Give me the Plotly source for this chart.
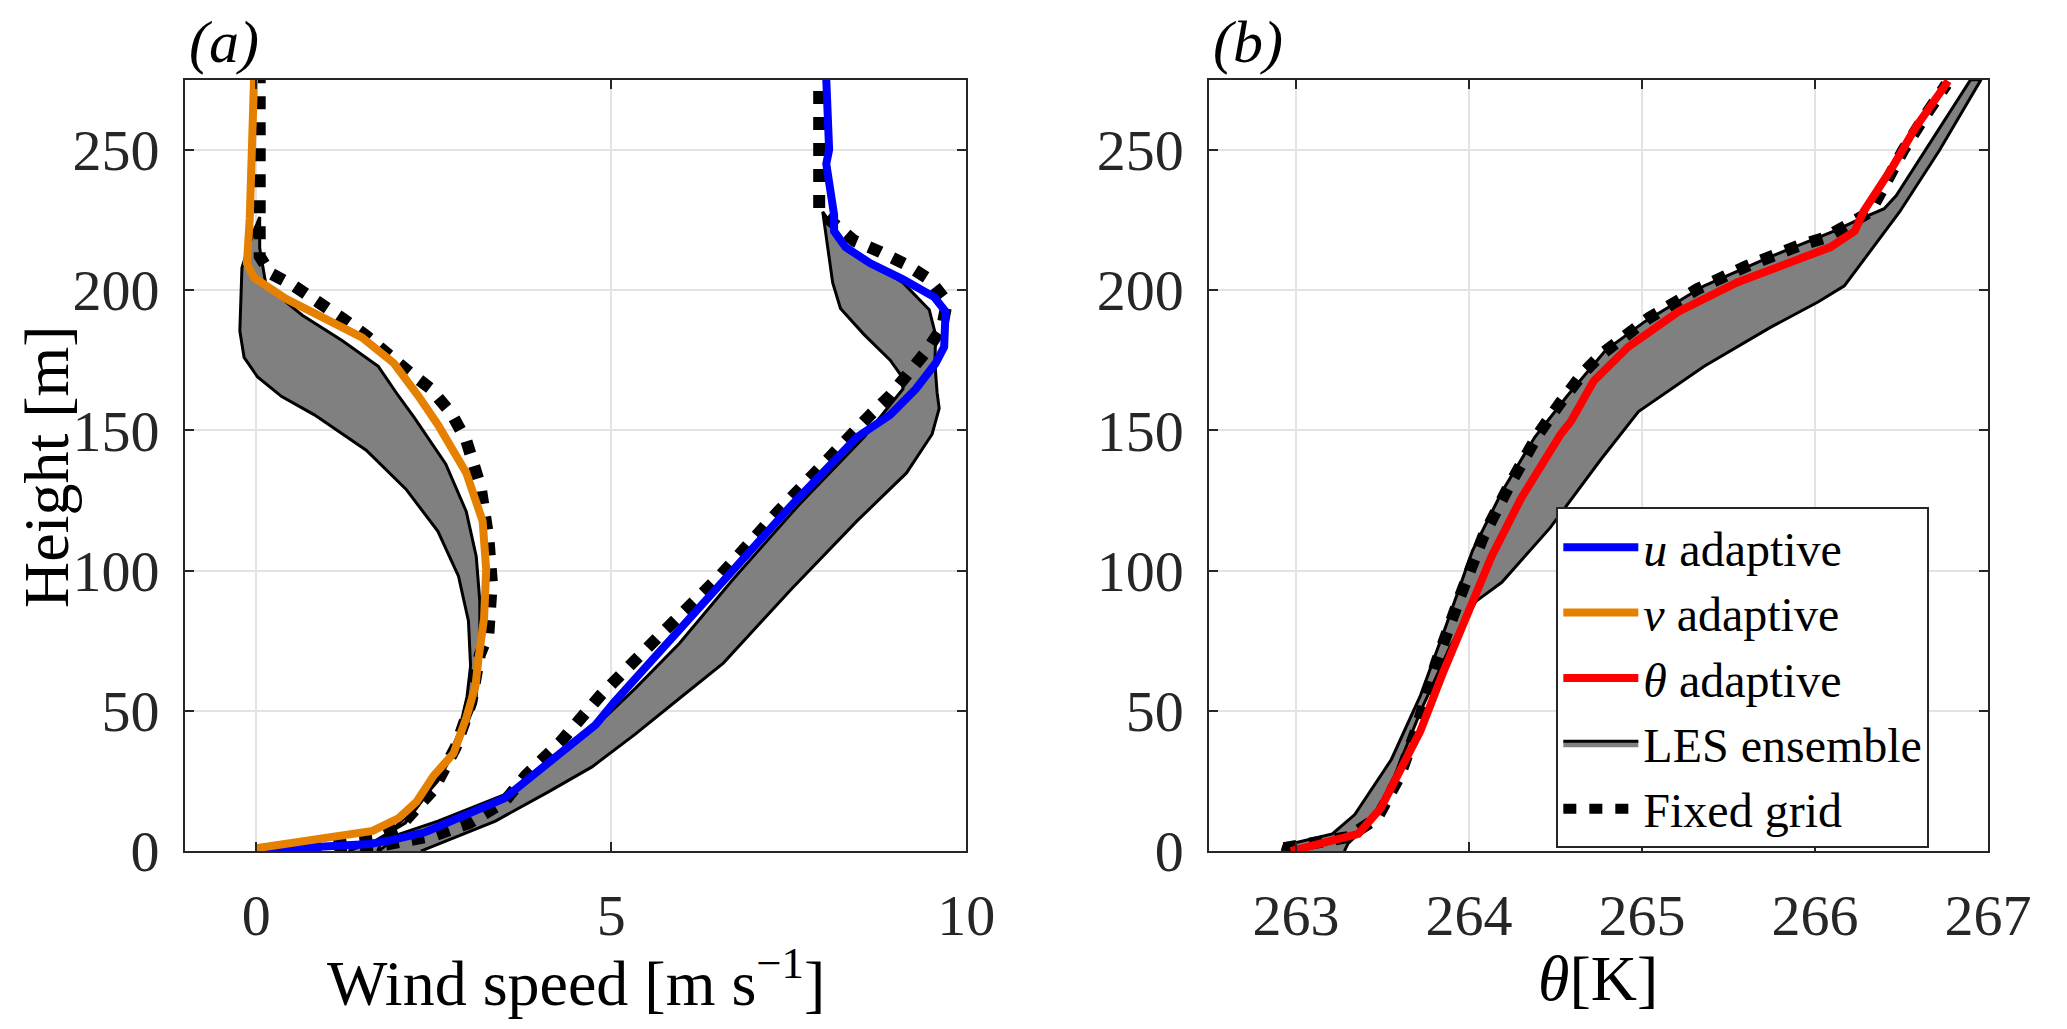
import plotly.graph_objects as go

# ---- panel (a): wind speed profiles [m/s] vs height [m] ----
u_adapt = [0.0, 1.0, 1.6, 1.89, 2.38, 3.49, 4.11, 4.42, 4.78, 5.04, 5.70, 6.62, 7.54, 8.46,
           8.93, 9.29, 9.57, 9.69, 9.71, 9.55, 9.11, 8.65, 8.30, 8.14, 8.14, 8.03, 8.07, 8.03]
z_u_adapt = [0.3, 1.5, 2.5, 3.8, 6.7, 18.7, 31, 37, 45, 53, 71.6, 96.9, 123.3, 147.5,
             155.5, 164.7, 173.9, 179.7, 192.3, 197.5, 203.8, 209.5, 215.3, 221, 226.8, 245, 250, 275]

v_adapt = [0.0, 0.8, 1.64, 2.01, 2.26, 2.50, 2.78, 2.96, 3.09, 3.13, 3.21, 3.24, 3.19, 2.96,
           2.56, 2.28, 1.94, 1.49, 0.93, 0.42, -0.03, -0.13, -0.09, -0.03]
z_v_adapt = [1, 4, 7.2, 11.8, 17.6, 26.9, 34.8, 47.5, 59, 68.3, 83, 100.3, 117.6, 134.8,
             152, 162.4, 173.9, 183.1, 190.6, 196.9, 204.4, 209.5, 225.6, 275]

u_fixed = [0.0, 1.0, 1.76, 2.5, 3.0, 3.49, 3.8, 4.29, 4.85, 5.70, 6.53, 7.31, 8.10, 8.37,
           8.65, 8.93, 9.18, 9.43, 9.66, 9.73, 9.48, 9.16, 8.79, 8.42, 8.1, 7.93, 7.93]
z_u_fixed = [0, 1, 2, 5.5, 10, 17.5, 27, 39, 55.5, 77.3, 98, 119.9, 141.7, 148.6,
             155.5, 162.4, 170, 177.9, 186.6, 195.8, 203.8, 209, 213.6, 217.6, 224.5, 228, 275]

v_fixed = [0.0, 0.8, 1.64, 2.01, 2.5, 2.81, 3.03, 3.15, 3.27, 3.32, 3.27, 3.16, 2.96, 2.75,
           2.45, 2.17, 1.88, 1.55, 1.21, 0.87, 0.53, 0.2, 0.05, 0.05]
z_v_fixed = [-0.5, 2, 4.5, 8.4, 22, 37, 53, 70, 77.3, 95.8, 111.8, 130, 146.3, 156,
             165, 170.4, 176.8, 183.7, 190, 196, 201.5, 206, 212, 275]

# LES ensemble envelopes (min / max)
u_les_min = [1.73, 2.01, 2.56, 3.49, 4.11, 4.72, 5.34, 5.96, 6.72, 7.64, 8.56, 9.11, 9.09,
             8.93, 8.56, 8.23, 8.12, 8.03, 7.98]
z_u_les_min = [0, 6, 10.7, 20, 31, 43, 58, 74, 97, 123.3, 147.5, 164.7, 169.3,
               175, 184.2, 193.4, 202.6, 218.7, 227.9]
u_les_max = [2.32, 3.37, 4.11, 4.73, 5.34, 5.96, 6.58, 7.05, 7.54, 8.46, 9.16, 9.52, 9.62,
             9.59, 9.56, 9.57, 9.48, 9.11, 8.33, 8.14, 7.98]
z_u_les_max = [0, 10.7, 21, 30, 41.7, 54.4, 67, 80, 93.4, 117.6, 134.8, 148.6, 157.8,
               163.6, 174, 184, 193, 202.6, 215, 222, 227.9]

v_les_min = [1.3, 1.7, 2.1, 2.4, 2.65, 2.85, 2.97, 3.02, 2.99, 2.85, 2.56, 2.11, 1.55, 0.82,
             0.36, 0.02, -0.17, -0.23, -0.2, -0.03, 0.05]
z_v_les_min = [0, 4, 10, 20, 30, 42, 55, 66, 82, 98, 114, 129, 142.9, 155.5,
               162, 169, 176, 185.4, 208, 221, 226]
v_les_max = [1.71, 1.8, 2.19, 2.56, 2.87, 3.09, 3.14, 3.15, 3.15, 3.1, 2.96, 2.67, 2.23, 2.0,
             1.72, 1.21, 0.65, 0.14, 0.05, 0.05]
z_v_les_max = [0, 5, 14, 25, 39, 53, 66, 77, 89, 105, 121, 138, 154.4, 162.4,
               172.8, 182, 191, 201.5, 215, 226]

# ---- panel (b): potential temperature [K] vs height [m] ----
th_adapt = [262.97, 263.36, 263.49, 263.66, 263.72, 263.85, 264.0, 264.13, 264.30, 264.40,
            264.53, 264.59, 264.72, 264.92, 265.21, 265.55, 265.83, 266.09, 266.23, 266.28,
            266.45, 266.58, 266.77]
z_th_adapt = [0, 6.1, 15.3, 34.8, 42.9, 63.6, 86.6, 104.9, 125.6, 136,
              148.6, 153.2, 167.5, 179.7, 192.3, 202.7, 209.5, 215.3, 221, 227.9,
              244, 257.8, 274.5]

th_fixed = [262.93, 263.30, 263.47, 263.60, 263.70, 263.81, 263.95, 264.08, 264.23, 264.40,
            264.53, 264.66, 264.77, 265.04, 265.32, 265.60, 265.91, 266.06, 266.19, 266.32,
            266.42, 266.51, 266.64, 266.76]
z_th_fixed = [1, 5, 11.8, 26.8, 44, 67, 91, 111.8, 130, 148.6,
              160, 170.4, 177.3, 190, 200.3, 208.4, 215.9, 218.7, 223.3, 227.9,
              239.4, 249.8, 262.4, 273.3]

th_les_min = [262.92, 262.93, 263.21, 263.34, 263.55, 263.72, 263.87, 264.02, 264.19, 264.38,
              264.57, 264.79, 265.02, 265.36, 265.74, 266.11, 266.23, 266.40, 266.47, 266.68,
              266.90]
z_th_les_min = [0, 2, 6.1, 13, 32.5, 55.5, 80.8, 107, 128, 147.5,
                162.4, 178.5, 188.9, 201.5, 211.8, 221, 224.5, 229, 233.7, 254,
                275]
th_les_max = [263.28, 263.30, 263.44, 263.57, 263.72, 263.89, 264.04, 264.19, 264.47, 264.76,
              264.98, 265.36, 265.74, 266.02, 266.17, 266.38, 266.49, 266.72, 266.96]
z_th_les_max = [0, 2.6, 10.7, 26.8, 49.8, 72.8, 89, 95.8, 115.3, 139.4,
                156.7, 172.8, 186.6, 195.8, 201.5, 218.7, 227.9, 249.8, 275]

height_ticks = [0, 50, 100, 150, 200, 250]
wind_ticks = [0, 5, 10]
theta_ticks = [263, 264, 265, 266, 267]

BLUE = 'rgb(0,0,255)'
ORANGE = 'rgb(230,128,0)'
RED = 'rgb(255,0,0)'
GREY = 'rgb(128,128,128)'
AXCOL = '#262626'
FONT = "'Liberation Serif', 'Times New Roman', 'DejaVu Serif', serif"

fig = go.Figure()


def band(x_lo, z_lo, x_hi, z_hi, xa, ya, show):
    # closed polygon: min envelope upward, max envelope back down
    return go.Scatter(
        x=x_lo + x_hi[::-1], y=z_lo + z_hi[::-1],
        xaxis=xa, yaxis=ya,
        mode='lines', fill='toself', fillcolor=GREY,
        line=dict(color='black', width=3),
        name='LES ensemble', legendgroup='les', legendrank=4, showlegend=show,
    )


def fixed(x, z, xa, ya, show):
    return go.Scatter(
        x=x, y=z, xaxis=xa, yaxis=ya, mode='lines',
        line=dict(color='black', width=12, dash='13px,13px'),
        name='Fixed grid', legendgroup='fixed', legendrank=5, showlegend=show,
    )


def adapt(x, z, xa, ya, color, name, rank):
    return go.Scatter(
        x=x, y=z, xaxis=xa, yaxis=ya, mode='lines',
        line=dict(color=color, width=8),
        name=name, legendrank=rank,
    )


fig.add_trace(band(v_les_min, z_v_les_min, v_les_max, z_v_les_max, 'x', 'y', True))
fig.add_trace(band(u_les_min, z_u_les_min, u_les_max, z_u_les_max, 'x', 'y', False))
fig.add_trace(band(th_les_min, z_th_les_min, th_les_max, z_th_les_max, 'x2', 'y2', False))

fig.add_trace(fixed(v_fixed, z_v_fixed, 'x', 'y', True))
fig.add_trace(fixed(u_fixed, z_u_fixed, 'x', 'y', False))
fig.add_trace(fixed(th_fixed, z_th_fixed, 'x2', 'y2', False))

fig.add_trace(adapt(u_adapt, z_u_adapt, 'x', 'y', BLUE, '<i>u</i> adaptive', 1))
fig.add_trace(adapt(v_adapt, z_v_adapt, 'x', 'y', ORANGE, '<i>v</i> adaptive', 2))
fig.add_trace(adapt(th_adapt, z_th_adapt, 'x2', 'y2', RED, '<i>θ</i> adaptive', 3))

W, H = 2067, 1029
ax_common = dict(
    showline=True, linecolor=AXCOL, linewidth=2, mirror='ticks',
    ticks='inside', ticklen=9, tickwidth=2, tickcolor=AXCOL,
    showgrid=True, gridcolor='#e3e3e3', gridwidth=2, zeroline=False,
    tickfont=dict(family=FONT, size=58, color=AXCOL),
)
y_dom = [1 - 871 / H, 1 - 74 / H]

fig.update_layout(
    width=W, height=H,
    margin=dict(l=0, r=0, t=0, b=0),
    paper_bgcolor='white', plot_bgcolor='white',
    font=dict(family=FONT, color='black'),
    xaxis=dict(ax_common, domain=[181 / W, 979 / W], range=[-1, 10],
               tickvals=wind_ticks, ticklabelstandoff=12, anchor='y'),
    yaxis=dict(ax_common, domain=y_dom, range=[0, 275],
               tickvals=height_ticks, ticklabelstandoff=12, anchor='x'),
    xaxis2=dict(ax_common, domain=[1227.6 / W, 2023 / W], range=[262.5, 267],
                tickvals=theta_ticks, ticklabelstandoff=12, anchor='y2'),
    yaxis2=dict(ax_common, domain=y_dom, range=[0, 275],
                tickvals=height_ticks, ticklabelstandoff=12, anchor='x2'),
    legend=dict(
        x=1582 / W, y=1 - 516 / H, xanchor='left', yanchor='top',
        bgcolor='white', bordercolor=AXCOL, borderwidth=2,
        font=dict(family=FONT, size=48, color='black'),
        tracegroupgap=0, itemwidth=75,
    ),
    annotations=[
        dict(text='Wind speed [m s<sup>−1</sup>]', xref='paper', yref='paper',
             x=580 / W, y=1 - 1003 / H, xanchor='center', yanchor='middle',
             showarrow=False, font=dict(family=FONT, size=64, color='black')),
        dict(text='<i>θ</i>[K]', xref='paper', yref='paper',
             x=1625 / W, y=1 - 1003 / H, xanchor='center', yanchor='middle',
             showarrow=False, font=dict(family=FONT, size=64, color='black')),
        dict(text='Height [m]', xref='paper', yref='paper', textangle=-90,
             x=40 / W, y=1 - 474 / H, xanchor='center', yanchor='middle',
             showarrow=False, font=dict(family=FONT, size=64, color='black')),
        dict(text='<i>(a)</i>', xref='paper', yref='paper',
             x=183 / W, y=1 - 35 / H, xanchor='left', yanchor='middle',
             showarrow=False, font=dict(family=FONT, size=60, color='black')),
        dict(text='<i>(b)</i>', xref='paper', yref='paper',
             x=1229 / W, y=1 - 35 / H, xanchor='left', yanchor='middle',
             showarrow=False, font=dict(family=FONT, size=60, color='black')),
    ],
)

fig.write_html("out.html")
